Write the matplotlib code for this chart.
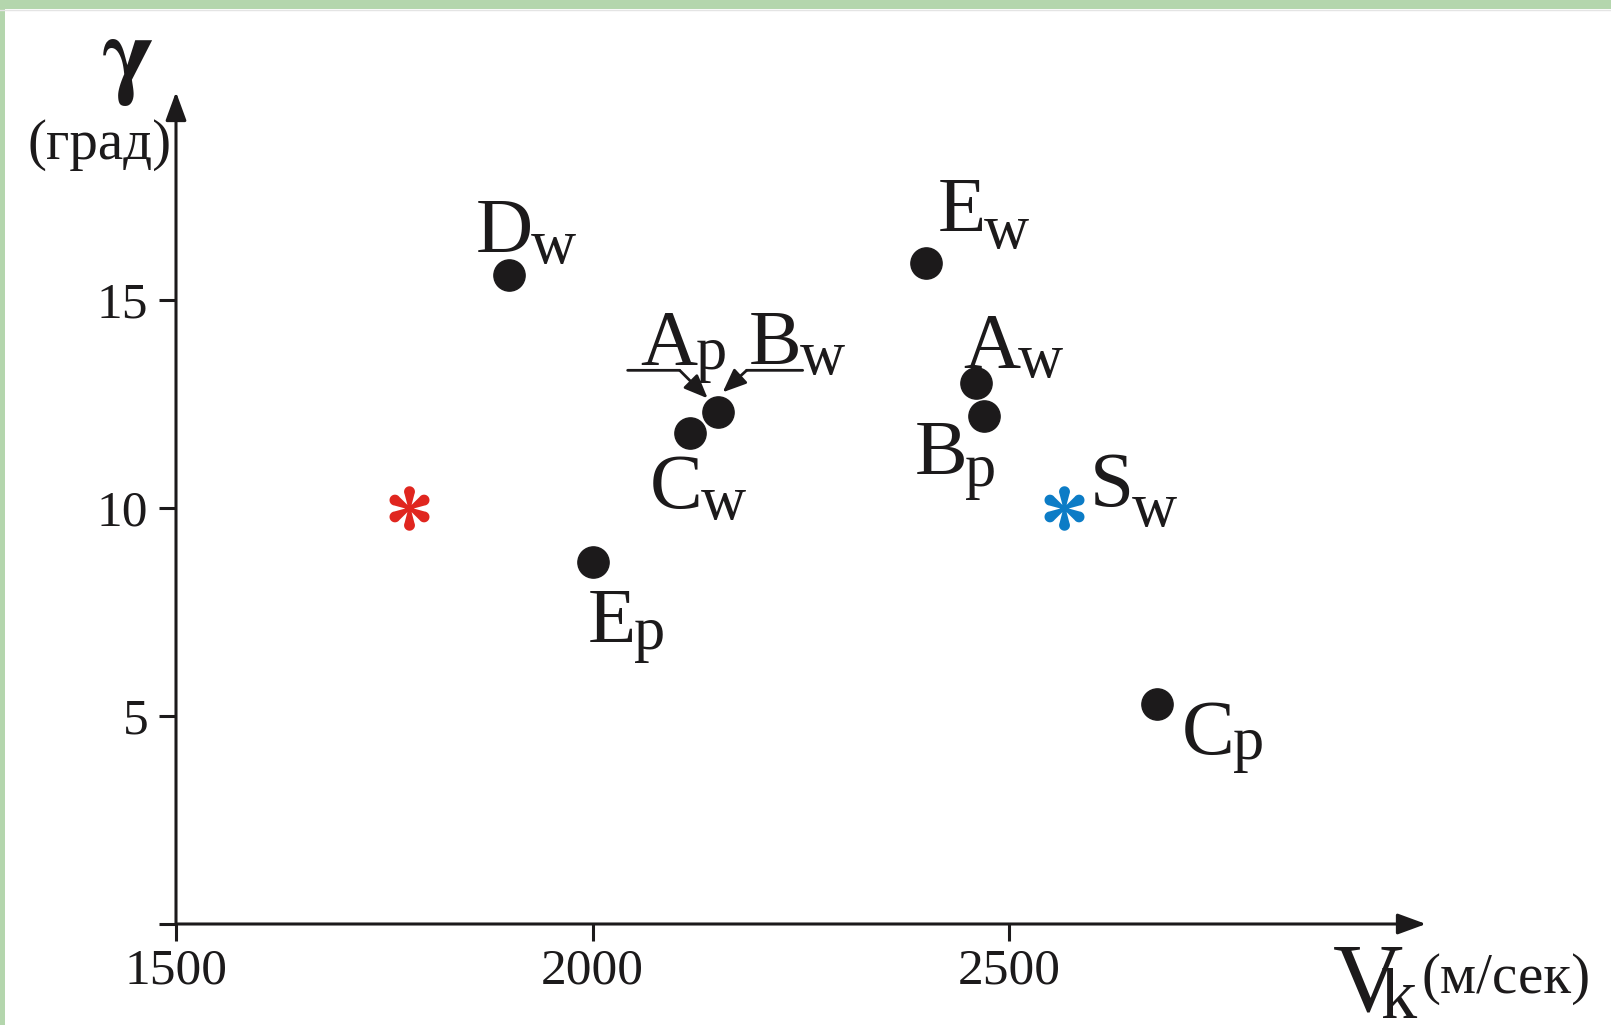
import matplotlib
matplotlib.use("Agg")
import matplotlib.pyplot as plt
import numpy as np
from matplotlib.path import Path
from matplotlib.patches import Rectangle
from matplotlib.transforms import offset_copy

# ---- data -------------------------------------------------------------
point_names = ["Dw", "Ew", "ApBw", "Cw", "Aw", "Bp", "Ep", "Cp"]
vk_values = [1900, 2400, 2150, 2117, 2460, 2470, 2000, 2677]       # м/сек
gamma_values = [15.6, 15.9, 12.3, 11.8, 13.0, 12.2, 8.7, 5.3]      # град

star_names = ["ref", "Sw"]
star_vk = [1780, 2565]
star_gamma = [10.0, 10.0]

x_ticks = [1500, 2000, 2500]
y_ticks = [0, 5, 10, 15]
y_tick_labels = ["", "5", "10", "15"]

# ---- style / layout ---------------------------------------------------
W, H = 1611, 1025
INK = "#1c1a1b"
SERIF = "Liberation Serif"
STAR_COLORS = {"ref": "#e0261f", "Sw": "#0c7cc6"}

# label pieces: main letter, subscript, offset of main (px, y up), subscript drop (px)
LABELS = {
    "Dw": [("D", "w", -34, 23, 11)],
    "Ew": [("E", "w", 12, 32, 17)],
    "ApBw": [("A", "p", -77, 48, 5), ("B", "w", 31, 48, 10)],
    "Cw": [("C", "w", -40, -75, 11)],
    "Aw": [("A", "w", -13, 16, 10)],
    "Bp": [("B", "p", -70, -58, 12)],
    "Ep": [("E", "p", -5, -80, 7)],
    "Cp": [("C", "p", 25, -50, 5)],
    "Sw": [("S", "w", 26, 2, 20)],
}
MAIN_SIZE = 57
SUB_SIZE = 45

fig = plt.figure(figsize=(W / 100, H / 100), dpi=100)
fig.patch.set_facecolor("white")

# green frame strips along the top and left edges
fig.patches.append(Rectangle((0, 1 - 9 / H), 1, 9 / H, transform=fig.transFigure,
                             facecolor="#b4d6ad", edgecolor="none", zorder=0))
fig.patches.append(Rectangle((0, 0), 5 / W, 1, transform=fig.transFigure,
                             facecolor="#b4d6ad", edgecolor="none", zorder=0))
fig.lines.append(plt.Line2D([0, 1], [1 - 9.5 / H, 1 - 9.5 / H], transform=fig.transFigure,
                            color="#e4e4e4", lw=1))

ax = fig.add_axes([176 / W, (H - 924) / H, 1250 / W, 832 / H])
ax.set_xlim(1500, 3000)
ax.set_ylim(0, 20)
ax.set_facecolor("none")
for s in ax.spines.values():
    s.set_visible(False)

# axes drawn as arrows
arrow_kw = dict(arrowstyle="-|>,head_length=0.6,head_width=0.22", color=INK, lw=2.2,
                shrinkA=0, shrinkB=0, mutation_scale=29)
ax.annotate("", xy=(1, 0), xycoords="axes fraction", xytext=(0, 0),
            textcoords="axes fraction", arrowprops=arrow_kw, annotation_clip=False)
ax.annotate("", xy=(0, 1), xycoords="axes fraction", xytext=(0, 0),
            textcoords="axes fraction", arrowprops=arrow_kw, annotation_clip=False)

ax.set_xticks(x_ticks)
ax.set_xticklabels([str(v) for v in x_ticks])
ax.set_yticks(y_ticks)
ax.set_yticklabels(y_tick_labels)
ax.tick_params(axis="both", direction="out", length=12, width=2.2, color=INK,
               labelcolor=INK, labelsize=37)
ax.tick_params(axis="x", pad=5)
ax.tick_params(axis="y", pad=8)
for lab in ax.get_xticklabels() + ax.get_yticklabels():
    lab.set_fontfamily(SERIF)


# six-petal asterisk marker with tapered teardrop petals
def petal_star():
    verts, codes = [], []
    arc = np.linspace(np.radians(-115), np.radians(115), 30)
    for k in range(6):
        ang = np.radians(90 + 60 * k)
        local = [(0.74 + 0.24 * np.cos(a), 0.24 * np.sin(a)) for a in arc]
        local += [(0.0, 0.05), (0.0, -0.05)]
        c, s = np.cos(ang), np.sin(ang)
        pts = [(x * c - y * s, x * s + y * c) for x, y in local]
        verts += pts + [pts[0]]
        codes += [Path.MOVETO] + [Path.LINETO] * (len(pts) - 1) + [Path.CLOSEPOLY]
    return Path(verts, codes)


STAR = petal_star()

ax.plot(vk_values, gamma_values, linestyle="none", marker="o", markersize=22.5,
        color=INK, zorder=3)
for name, x, y in zip(star_names, star_vk, star_gamma):
    ax.plot([x], [y], linestyle="none", marker=STAR, markersize=32,
            color=STAR_COLORS[name], markeredgewidth=0, zorder=3)

fig.canvas.draw()
renderer = fig.canvas.get_renderer()


def put_label(x, y, main, sub, dx, dy, drop):
    t = ax.annotate(main, xy=(x, y), xytext=(dx, dy), textcoords="offset pixels",
                    ha="left", va="baseline", fontsize=MAIN_SIZE, family=SERIF, color=INK)
    w = t.get_window_extent(renderer).width
    ax.annotate(sub, xy=(x, y), xytext=(dx + w - 2, dy - drop), textcoords="offset pixels",
                ha="left", va="baseline", fontsize=SUB_SIZE, family=SERIF, color=INK)


def segment(x, y, p0, p1, head=False):
    t0 = offset_copy(ax.transData, fig=fig, x=p0[0], y=p0[1], units="dots")
    t1 = offset_copy(ax.transData, fig=fig, x=p1[0], y=p1[1], units="dots")
    style = "-|>,head_length=0.6,head_width=0.25" if head else "-"
    ax.annotate("", xy=(x, y), xycoords=t1, xytext=(x, y), textcoords=t0,
                arrowprops=dict(arrowstyle=style, color=INK, lw=2.0, shrinkA=0,
                                shrinkB=0, mutation_scale=24))


for name, x, y in zip(point_names, vk_values, gamma_values):
    for main, sub, dx, dy, drop in LABELS[name]:
        put_label(x, y, main, sub, dx, dy, drop)

for name, x, y in zip(star_names, star_vk, star_gamma):
    if name in LABELS:
        for main, sub, dx, dy, drop in LABELS[name]:
            put_label(x, y, main, sub, dx, dy, drop)

# leader arrows pointing at the shared A_p / B_w point
i = point_names.index("ApBw")
px, py = vk_values[i], gamma_values[i]
segment(px, py, (-90, 42), (-38, 42))
segment(px, py, (-38, 42), (-10, 14), head=True)
segment(px, py, (85, 42), (29, 42))
segment(px, py, (29, 42), (5, 20), head=True)


# axis titles
def ftext(xp, yp, s, **kw):
    kw.setdefault("family", SERIF)
    fig.text(xp / W, 1 - yp / H, s, color=INK, va="baseline", **kw)


ftext(127, 86, r"$\mathbf{\gamma}$", fontsize=72, ha="center", math_fontfamily="stix")
ftext(28, 159, "(град)", fontsize=41, ha="left")
ftext(1333, 1010, "V", fontsize=70, ha="left")
ftext(1381, 1018, "k", fontsize=52, ha="left")
ftext(1421, 993, "(м/сек)", fontsize=41, ha="left")

fig.savefig("out.png", dpi=100, facecolor=fig.get_facecolor())
